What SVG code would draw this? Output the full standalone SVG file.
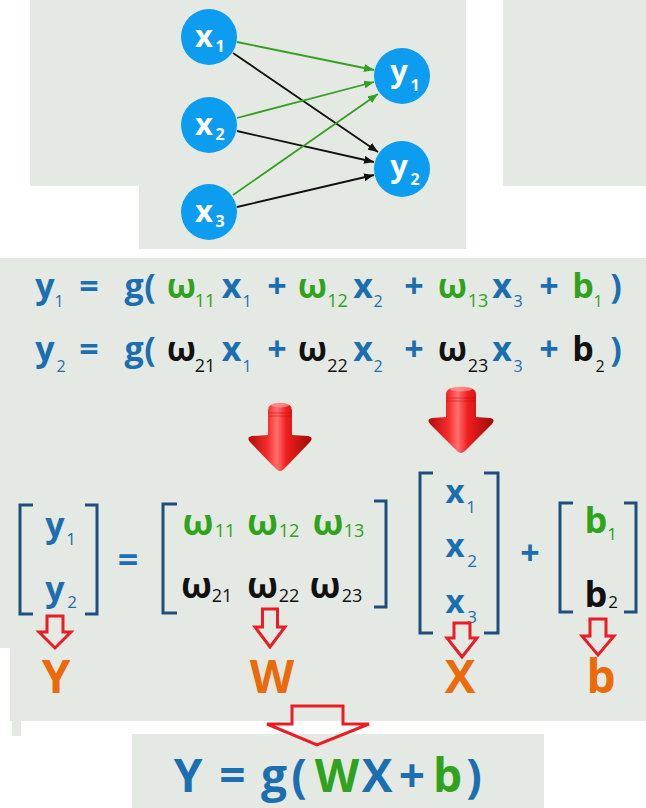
<svg xmlns="http://www.w3.org/2000/svg" width="646" height="808" viewBox="0 0 646 808">
<defs>
<style>
.bg{fill:#e5e9e3}
.node{fill:#0c9cf0}
.nt{font-family:"Open Sans","DejaVu Sans",sans-serif;font-weight:700;fill:#fff;text-anchor:middle}
.f{font-family:"Open Sans","DejaVu Sans",sans-serif;font-weight:700;text-anchor:middle}
.s{font-family:"Open Sans","DejaVu Sans",sans-serif;font-weight:400;text-anchor:middle}
.bl{fill:#1b6fb1}
.gr{fill:#2ea31b}
.bk{fill:#111}
.or{fill:#ea6a0c}
.br{fill:none;stroke:#1e4e7e;stroke-width:3}
.ho{fill:none;stroke:#ec1c24;stroke-width:3;stroke-linejoin:miter}
.eg{stroke:#35a020;stroke-width:1.8;fill:none}
.ek{stroke:#111;stroke-width:1.8;fill:none}
</style>
<marker id="ag" markerUnits="userSpaceOnUse" markerWidth="10" markerHeight="8" refX="10" refY="4" orient="auto"><path d="M0,0 L10,4 L0,8 z" fill="#35a020"/></marker>
<marker id="ak" markerUnits="userSpaceOnUse" markerWidth="10" markerHeight="8" refX="10" refY="4" orient="auto"><path d="M0,0 L10,4 L0,8 z" fill="#111"/></marker>
<linearGradient id="red" x1="0" y1="0" x2="1" y2="0">
<stop offset="0" stop-color="#b00e0e"/>
<stop offset="0.3" stop-color="#f62a2a"/>
<stop offset="0.45" stop-color="#ff7070"/>
<stop offset="0.6" stop-color="#f01e1e"/>
<stop offset="1" stop-color="#a00a0a"/>
</linearGradient>
</defs>

<g id="background">
<rect class="bg" x="30" y="0" width="436" height="186"/>
<rect class="bg" x="139" y="186" width="327" height="63"/>
<rect class="bg" x="503" y="0" width="143" height="186"/>
<path class="bg" d="M0,258 H646 V721 H10 V648 H0 Z"/>
<rect class="bg" x="12" y="721" width="9" height="15"/>
<rect class="bg" x="132" y="734" width="412" height="74"/>
</g>

<g id="connectors">
<line class="eg" x1="237" y1="42" x2="374" y2="70" marker-end="url(#ag)"/>
<line class="ek" x1="233" y1="53" x2="378" y2="152" marker-end="url(#ak)"/>
<line class="eg" x1="237" y1="118" x2="374" y2="82" marker-end="url(#ag)"/>
<line class="ek" x1="237" y1="131" x2="374" y2="162" marker-end="url(#ak)"/>
<line class="eg" x1="233" y1="195" x2="378" y2="94" marker-end="url(#ag)"/>
<line class="ek" x1="237" y1="207" x2="374" y2="175" marker-end="url(#ak)"/>
</g>

<g id="node-x1"><circle class="node" cx="209" cy="37" r="28"/><text class="nt" x="204" y="47" font-size="31">x</text><text class="nt" x="220" y="52" font-size="16" font-weight="400">1</text></g>
<g id="node-x2"><circle class="node" cx="209" cy="125" r="28"/><text class="nt" x="204" y="135" font-size="31">x</text><text class="nt" x="220" y="140" font-size="16" font-weight="400">2</text></g>
<g id="node-x3"><circle class="node" cx="209" cy="212" r="28"/><text class="nt" x="204" y="222" font-size="31">x</text><text class="nt" x="220" y="227" font-size="16" font-weight="400">3</text></g>
<g id="node-y1"><circle class="node" cx="402" cy="76" r="28"/><text class="nt" x="399" y="82" font-size="31">y</text><text class="nt" x="415" y="91" font-size="16" font-weight="400">1</text></g>
<g id="node-y2"><circle class="node" cx="402" cy="169" r="28"/><text class="nt" x="399" y="177" font-size="31">y</text><text class="nt" x="415" y="185" font-size="16" font-weight="400">2</text></g>

<g id="equation1" font-size="34">
<text class="f bl" x="45" y="298">y</text><text class="s bl" x="59" y="307" font-size="16">1</text>
<text class="f bl" x="89" y="298">=</text>
<text class="f bl" x="134" y="298">g</text><text class="f bl" x="150" y="298">(</text>
<text class="f gr" x="181.5" y="298">ω</text><text class="s gr" x="205" y="307" font-size="18">11</text>
<text class="f bl" x="231.5" y="298">x</text><text class="s bl" x="247" y="307" font-size="16">1</text>
<text class="f bl" x="277" y="298">+</text>
<text class="f gr" x="312.5" y="298">ω</text><text class="s gr" x="337.5" y="307" font-size="18">12</text>
<text class="f bl" x="363" y="298">x</text><text class="s bl" x="378" y="307" font-size="16">2</text>
<text class="f bl" x="414" y="298">+</text>
<text class="f gr" x="452.5" y="298">ω</text><text class="s gr" x="478" y="307" font-size="18">13</text>
<text class="f bl" x="502" y="298">x</text><text class="s bl" x="518" y="307" font-size="16">3</text>
<text class="f bl" x="549" y="298">+</text>
<text class="f gr" x="583" y="298">b</text><text class="s gr" x="598" y="307" font-size="16">1</text>
<text class="f bl" x="616" y="298">)</text>
</g>

<g id="equation2" font-size="34">
<text class="f bl" x="45" y="361">y</text><text class="s bl" x="61" y="372" font-size="16">2</text>
<text class="f bl" x="89" y="361">=</text>
<text class="f bl" x="134" y="361">g</text><text class="f bl" x="150" y="361">(</text>
<text class="f bk" x="181.5" y="361">ω</text><text class="s bk" x="205" y="372" font-size="18">21</text>
<text class="f bl" x="231.5" y="361">x</text><text class="s bl" x="247" y="372" font-size="16">1</text>
<text class="f bl" x="277" y="361">+</text>
<text class="f bk" x="312.5" y="361">ω</text><text class="s bk" x="337.5" y="372" font-size="18">22</text>
<text class="f bl" x="363" y="361">x</text><text class="s bl" x="378" y="372" font-size="16">2</text>
<text class="f bl" x="414" y="361">+</text>
<text class="f bk" x="452.5" y="361">ω</text><text class="s bk" x="478" y="372" font-size="18">23</text>
<text class="f bl" x="502" y="361">x</text><text class="s bl" x="518" y="372" font-size="16">3</text>
<text class="f bl" x="549" y="361">+</text>
<text class="f bk" x="583" y="361">b</text><text class="s bk" x="600" y="372" font-size="16">2</text>
<text class="f bl" x="616" y="361">)</text>
</g>

<g id="red-arrow-1">
<path d="M268,410 Q268,403 280,403 Q292,403 292,410 L292,435 L308,436 Q314,437 310,442 L284,469 Q280,473 276,469 L250,442 Q246,437 252,436 L268,435 Z" fill="url(#red)"/>
<ellipse cx="280" cy="405" rx="9" ry="2.5" fill="#ff9a9a" opacity="0.7"/>
<path d="M269,413 H291 M269,416 H291" stroke="#b80f0f" stroke-width="0.8" opacity="0.6"/>
</g>
<g id="red-arrow-2">
<path d="M446,394 Q446,387 461,387 Q476,387 476,394 L476,417 L490,418 Q496,419 492,424 L465,451 Q461,455 457,451 L430,424 Q426,419 432,418 L446,417 Z" fill="url(#red)"/>
<ellipse cx="461" cy="389" rx="11" ry="2.5" fill="#ff9a9a" opacity="0.7"/>
<path d="M447,398 H475 M447,401 H475" stroke="#b80f0f" stroke-width="0.8" opacity="0.6"/>
</g>

<g id="matrix-Y">
<path class="br" d="M33,505 H20 V614 H33"/><path class="br" d="M85,505 H97 V614 H85"/>
<text class="f bl" x="55" y="537" font-size="34">y</text><text class="s bl" x="71" y="545" font-size="17">1</text>
<text class="f bl" x="55" y="601" font-size="34">y</text><text class="s bl" x="72" y="608" font-size="17">2</text>
</g>
<text id="eq-sign" class="f bl" x="128" y="572" font-size="36">=</text>

<g id="matrix-W">
<path class="br" d="M177,504 H163 V613 H177"/><path class="br" d="M374,501 H386 V607 H374"/>
<text class="f gr" x="198" y="535" font-size="36">ω</text><text class="s gr" x="225" y="537" font-size="18">11</text>
<text class="f gr" x="262.5" y="535" font-size="36">ω</text><text class="s gr" x="289" y="537" font-size="18">12</text>
<text class="f gr" x="328" y="535" font-size="36">ω</text><text class="s gr" x="354" y="537" font-size="18">13</text>
<text class="f bk" x="196.5" y="598" font-size="36">ω</text><text class="s bk" x="222" y="602" font-size="18">21</text>
<text class="f bk" x="262.5" y="598" font-size="36">ω</text><text class="s bk" x="289" y="602" font-size="18">22</text>
<text class="f bk" x="325" y="598" font-size="36">ω</text><text class="s bk" x="352" y="602" font-size="18">23</text>
</g>

<g id="matrix-X">
<path class="br" d="M433,473 H420 V633 H433"/><path class="br" d="M484,473 H498 V633 H484"/>
<text class="f bl" x="455" y="503" font-size="33">x</text><text class="s bl" x="471" y="513" font-size="17">1</text>
<text class="f bl" x="455" y="557" font-size="33">x</text><text class="s bl" x="472" y="567" font-size="17">2</text>
<text class="f bl" x="455" y="613" font-size="33">x</text><text class="s bl" x="472" y="623" font-size="17">3</text>
</g>
<text id="plus-sign" class="f bl" x="530" y="565" font-size="34">+</text>

<g id="matrix-b">
<path class="br" d="M573,503 H560 V612 H573"/><path class="br" d="M624,503 H636 V612 H624"/>
<text class="f gr" x="596" y="533" font-size="36">b</text><text class="s gr" x="612" y="540" font-size="17">1</text>
<text class="f bk" x="596" y="607" font-size="36">b</text><text class="s bk" x="613" y="608" font-size="17">2</text>
</g>

<g id="hollow-arrows">
<path class="ho" d="M47,616 H63 V632 H71 L55,648 L39,632 H47 Z"/>
<path class="ho" d="M262.5,609 H277.5 V627 H285 L270,647 L255,627 H262.5 Z"/>
<path class="ho" d="M454,623 H470 V638 H477 L462,657 L447,638 H454 Z"/>
<path class="ho" d="M590,619 H606 V636 H614 L598,655 L582,636 H590 Z"/>
<path class="ho" stroke-width="4" d="M292,706 H343 V724 H369 L317,745 L267,724 H292 Z"/>
</g>

<g id="labels" font-size="46">
<text class="f or" x="56" y="693">Y</text>
<text class="f or" x="272" y="693">W</text>
<text class="f or" x="460" y="693">X</text>
<text class="f or" x="601" y="693">b</text>
</g>

<g id="final-equation" font-size="46">
<text class="f bl" x="188" y="792">Y</text>
<text class="f bl" x="232.5" y="792">=</text>
<text class="f bl" x="274" y="792">g</text>
<text class="f bl" x="299" y="792">(</text>
<text class="f gr" x="337" y="792">W</text>
<text class="f bl" x="377" y="792">X</text>
<text class="f bl" x="412" y="792">+</text>
<text class="f gr" x="447.5" y="792">b</text>
<text class="f bl" x="474" y="792">)</text>
</g>
</svg>
